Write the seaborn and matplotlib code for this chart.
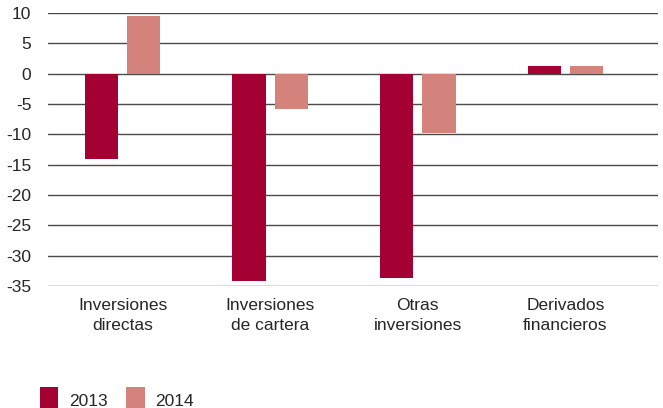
import matplotlib
matplotlib.use("Agg")
import matplotlib.pyplot as plt
import seaborn as sns
import pandas as pd
from matplotlib.patches import Patch

categories = ["Inversiones\ndirectas", "Inversiones\nde cartera", "Otras\ninversiones", "Derivados\nfinancieros"]
years = ["2013", "2014"]
values_2013 = [-14.1, -34.2, -33.7, 1.2]
values_2014 = [9.5, -5.9, -9.7, 1.2]
yticks = [10, 5, 0, -5, -10, -15, -20, -25, -30, -35]

colors = {"2013": "#A50034", "2014": "#D4827C"}

df = pd.DataFrame({
    "cat": categories * 2,
    "year": ["2013"] * 4 + ["2014"] * 4,
    "val": values_2013 + values_2014,
})

sns.set_style("white")
plt.rcParams["font.family"] = ["Liberation Sans Narrow", "Liberation Sans", "DejaVu Sans"]

fig = plt.figure(figsize=(6.63, 4.08), dpi=100)
ax = fig.add_axes([48/663, 1-286/408, (658-48)/663, (286-13)/408])

sns.barplot(data=df, x="cat", y="val", hue="year", palette=colors,
            width=0.576, gap=0.22, ax=ax, legend=False, zorder=3,
            saturation=1, edgecolor="none", errorbar=None)

ax.set_ylim(-35, 10)
ax.set_xlim(-0.505, 3.627)
ax.set_yticks(yticks)
ax.set_yticklabels([str(t) for t in yticks], fontsize=12.5)
ax.grid(axis="y", color="#4a4a4a", linewidth=1, zorder=0)
ax.set_axisbelow(True)
for s in ax.spines.values():
    s.set_visible(False)
ax.tick_params(axis="y", length=0, pad=12)
ax.tick_params(axis="x", length=0, pad=9, labelsize=12.5)
for lbl in ax.get_xticklabels():
    lbl.set_linespacing(1.4)
ax.set_xlabel("")
ax.set_ylabel("")

handles = [Patch(facecolor=colors[y], edgecolor="none") for y in years]
fig.legend(handles, years, loc="lower left", bbox_to_anchor=(40/663, -0.012),
           ncol=2, frameon=False, fontsize=12.5, handlelength=1.05, handleheight=1.9,
           handletextpad=0.6, columnspacing=1.1, borderaxespad=0, borderpad=0)

fig.savefig("out.png", dpi=100)
